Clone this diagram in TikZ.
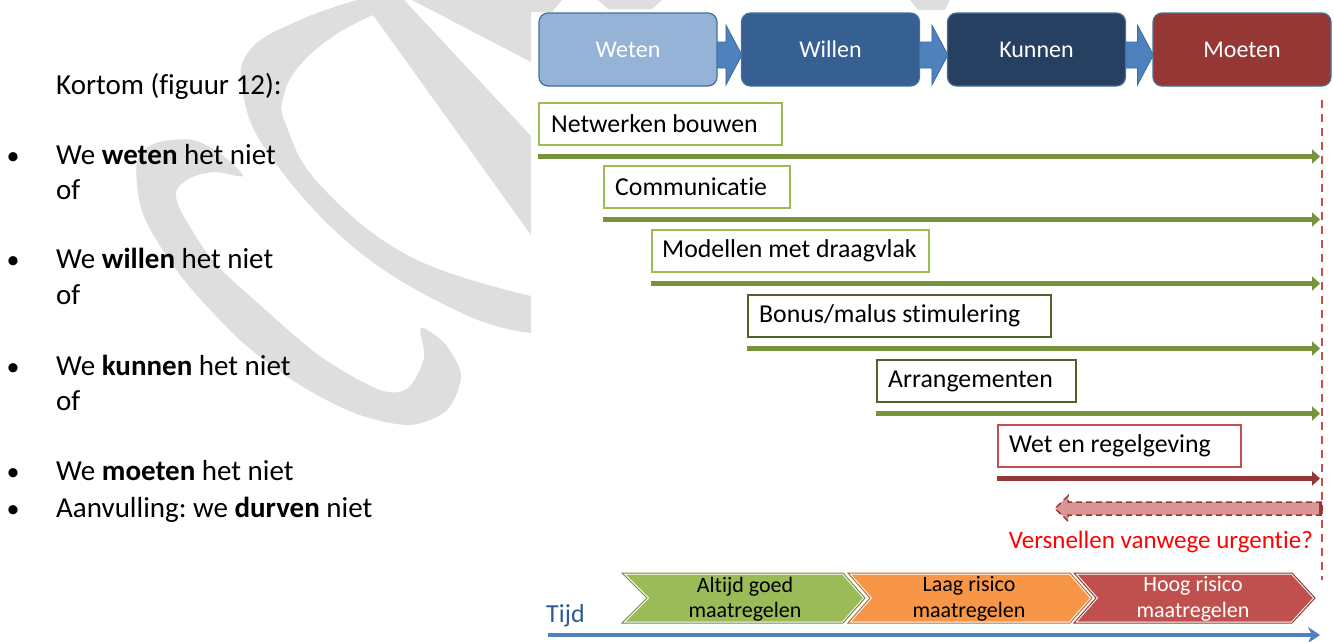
\documentclass[tikz,border=0pt]{standalone}
\usepackage{fontspec}
\setmainfont{Carlito}[Ligatures={NoCommon}]
\usetikzlibrary{arrows.meta,calc}
\pgfdeclarelayer{bg}
\pgfsetlayers{bg,main}
\definecolor{wm}{HTML}{DEDEDE}
\definecolor{bweten}{HTML}{95B3D7}
\definecolor{bwillen}{HTML}{366092}
\definecolor{bkunnen}{HTML}{254061}
\definecolor{bmoeten}{HTML}{953735}
\definecolor{bborder}{HTML}{41719C}
\definecolor{ablue}{HTML}{4F81BD}
\definecolor{ablueb}{HTML}{3A6A9E}
\definecolor{lgreen}{HTML}{9BBB59}
\definecolor{dgreen}{HTML}{4F6228}
\definecolor{olive}{HTML}{77933C}
\definecolor{lred}{HTML}{C0504D}
\definecolor{dred}{HTML}{953735}
\definecolor{rose}{HTML}{D99694}
\definecolor{chg}{HTML}{9BBB59}
\definecolor{chgb}{HTML}{71893F}
\definecolor{cho}{HTML}{F79646}
\definecolor{chob}{HTML}{B66D31}
\definecolor{chr}{HTML}{C0504D}
\definecolor{chrb}{HTML}{8C3836}
\definecolor{tijdc}{HTML}{2C5C91}
\definecolor{vline}{HTML}{D04A4A}
\tikzset{
 topbox/.style={rounded corners=9pt, draw=bborder, line width=1.2pt, minimum width=178pt, minimum height=73pt, text=white, font=\fontsize{24}{28}\selectfont, inner sep=0pt},
 tbox/.style={draw, line width=2pt, anchor=north west, minimum height=42pt, inner sep=0pt},
 tlabel/.style={anchor=west, inner sep=0pt, font=\fontsize{25.8}{30}\selectfont},
 garrow/.style={olive, line width=5pt, -{Triangle[length=8pt,width=14pt]}},
 rarrow/.style={dred, line width=5pt, -{Triangle[length=8pt,width=14pt]}},
 lt/.style={anchor=base west, inner sep=0pt, font=\fontsize{29}{34}\selectfont},
 bul/.style={anchor=base, inner sep=0pt, font=\fontsize{26}{34}\selectfont},
 chtext/.style={align=center, inner sep=0pt, font=\fontsize{22}{25.5}\selectfont},
 chev/.style={draw=white, line width=3pt},
 barrow/.pic={\filldraw[fill=ablue, draw=ablueb, line width=0.8pt] (-32,-13) -- (-16,-13) -- (-16,-30) -- (0,0) -- (-16,30) -- (-16,13) -- (-32,13) -- cycle;},
}
\frenchspacing
\begin{document}
\begin{tikzpicture}[x=1pt,y=-1pt]
\useasboundingbox (0,0) rectangle (1334,641);
\begin{pgfonlayer}{bg}
\fill[white] (0,0) rectangle (1334,641);
\begin{scope}
\clip (0,0) rectangle (531,641);
% ring with its upper band
\fill[wm] plot[smooth, tension=0.7] coordinates {(531,333) (464,314) (357,250) (271,157) (243,93) (250,50) (300,20) (357,0)} -- (404,0) -- (531,136) -- (531,235)
  -- plot[smooth, tension=0.7] coordinates {(373,15) (335,35) (300,65) (284,95) (286,125) (321,186) (411,257) (531,296)} -- cycle;
% top right stroke
\fill[wm] (412,0) -- (531,0) -- (531,62) -- cycle;
% open ring
\fill[wm] plot[smooth cycle, tension=0.5] coordinates {(243,176) (222,155) (193,140) (156,143) (137,162) (143,214) (180,275) (240,340) (300,385) (357,414) (410,425) (447,410) (461,376) (446,345) (421,328) (424,358) (408,388) (380,390) (321,357) (260,305) (214,262) (183,215) (176,192) (190,178) (215,172)};
\end{scope}
\fill[wm] (531,0) -- (562,0) -- (552,12) -- (531,12) -- cycle;
\fill[wm] (598,0) -- (662,0) -- (652,9) -- (608,9) -- cycle;
\fill[wm] (910,0) -- (950,0) -- (945,10) -- (918,10) -- cycle;
\end{pgfonlayer}

% left text
\node[lt] (kort) at (56,94) {Kortom (figuur 12):};
\node[bul] (b1) at (13,164) {•};
\node[lt] (t1) at (56,164) {We \textbf{weten} het niet};
\node[lt] (o1) at (56,199) {of};
\node[bul] (b2) at (13,268) {•};
\node[lt] (t2) at (56,268) {We \textbf{willen} het niet};
\node[lt] (o2) at (56,304) {of};
\node[bul] (b3) at (13,375) {•};
\node[lt] (t3) at (56,375) {We \textbf{kunnen} het niet};
\node[lt] (o3) at (56,410) {of};
\node[bul] (b4) at (13,480) {•};
\node[lt] (t4) at (56,480) {We \textbf{moeten} het niet};
\node[bul] (b5) at (13,517) {•};
\node[lt] (t5) at (56,517) {Aanvulling: we \textbf{durven} niet};

% top boxes
\node[topbox, fill=bweten] (weten) at (628,49.5) {Weten};
\node[topbox, fill=bwillen] (willen) at (830.5,49.5) {Willen};
\node[topbox, fill=bkunnen] (kunnen) at (1036.5,49.5) {Kunnen};
\node[topbox, fill=bmoeten] (moeten) at (1242,49.5) {Moeten};
\begin{pgfonlayer}{bg}
\pic at ($(willen.west)+(1,5.5)$) {barrow};
\pic at ($(kunnen.west)+(1,5.5)$) {barrow};
\pic at ($(moeten.west)+(1,5.5)$) {barrow};
\end{pgfonlayer}

% measure boxes
\node[tbox, draw=lgreen, minimum width=243pt] (nb) at (538,102) {};
\node[tlabel] (nbl) at ([xshift=13pt]nb.west) {Netwerken bouwen};
\node[tbox, draw=lgreen, minimum width=186pt] (comm) at (603,165) {};
\node[tlabel] (comml) at ([xshift=12pt]comm.west) {Communicatie};
\node[tbox, draw=lgreen, minimum width=277pt] (mod) at (651,229) {};
\node[tlabel] (modl) at ([xshift=11pt]mod.west) {Modellen met draagvlak};
\node[tbox, draw=dgreen, minimum width=303pt] (bon) at (747,294) {};
\node[tlabel] (bonl) at ([xshift=12pt]bon.west) {Bonus/malus stimulering};
\node[tbox, draw=dgreen, minimum width=199pt] (arr) at (876,359) {};
\node[tlabel] (arrl) at ([xshift=12pt]arr.west) {Arrangementen};
\node[tbox, draw=lred, minimum width=243pt] (wet) at (997,424) {};
\node[tlabel] (wetl) at ([xshift=12pt]wet.west) {Wet en regelgeving};

% timeline arrows
\coordinate (tipx) at (1320,0);
\path ($(nb.south west)+(0,10.5)$) coordinate (s1)
      ($(comm.south west)+(0,10.5)$) coordinate (s2)
      ($(mod.south west)+(0,10.5)$) coordinate (s3)
      ($(bon.south west)+(0,10.5)$) coordinate (s4)
      ($(arr.south west)+(0,10.5)$) coordinate (s5)
      ($(wet.south west)+(0,10.5)$) coordinate (s6);
\draw[garrow] (s1) -- (s1 -| tipx);
\draw[garrow] (s2) -- (s2 -| tipx);
\draw[garrow] (s3) -- (s3 -| tipx);
\draw[garrow] (s4) -- (s4 -| tipx);
\draw[garrow] (s5) -- (s5 -| tipx);
\draw[rarrow] (s6) -- (s6 -| tipx);

% vertical dashed line
\coordinate (vt) at (1322,100);
\coordinate (vb) at (1322,580);
\draw[vline, line width=2pt, dash pattern=on 8pt off 6pt] (vt) -- (vb);

% back arrow
\coordinate (br) at (1322,508.5);
\filldraw[fill=rose, draw=dred, line width=1.5pt, dash pattern=on 6pt off 4pt] (br) ++(0,-6.5) -- ++(-254,0) -- ++(0,-6) -- ++(-13,12.5) -- ++(13,12.5) -- ++(0,-6) -- ++(254,0) -- cycle;
\draw[dred, line width=3pt] ($(br)+(-2,-6.5)$) -- ($(br)+(-2,6.5)$);
\node[anchor=base east, text=red, font=\fontsize{25}{30}\selectfont, inner sep=0pt] (vers) at (1313,548) {Versnellen vanwege urgentie?};

% chevrons
\filldraw[chev, fill=chg] (622,573) -- (843,573) -- (865,598) -- (843,623) -- (622,623) -- (647,598) -- cycle;
\draw[chgb, line width=1pt] (622,573) -- (843,573) -- (865,598) -- (843,623) -- (622,623) -- (647,598) -- cycle;
\filldraw[chev, fill=cho] (848,573) -- (1070,573) -- (1092,598) -- (1070,623) -- (848,623) -- (870,598) -- cycle;
\draw[chob, line width=1pt] (848,573) -- (1070,573) -- (1092,598) -- (1070,623) -- (848,623) -- (870,598) -- cycle;
\filldraw[chev, fill=chr] (1074,573) -- (1292,573) -- (1315,598) -- (1292,623) -- (1074,623) -- (1096,598) -- cycle;
\draw[chrb, line width=1pt] (1074,573) -- (1292,573) -- (1315,598) -- (1292,623) -- (1074,623) -- (1096,598) -- cycle;
\node[chtext] (c1) at (745,599) {Altijd goed\\maatregelen};
\node[chtext] (c2) at (969,599) {Laag risico\\maatregelen};
\node[chtext, text=white] (c3) at (1193,599) {Hoog risico\\maatregelen};

% time axis
\node[anchor=base west, text=tijdc, font=\fontsize{26}{30}\selectfont, inner sep=0pt] (tijd) at (546,622) {Tijd};
\coordinate (ts) at (548,635);
\coordinate (te) at (1320,635);
\draw[ablue, line width=4pt, -{Stealth[length=12pt,width=16pt,inset=4pt]}] (ts) -- (te);
\end{tikzpicture}
\end{document}
